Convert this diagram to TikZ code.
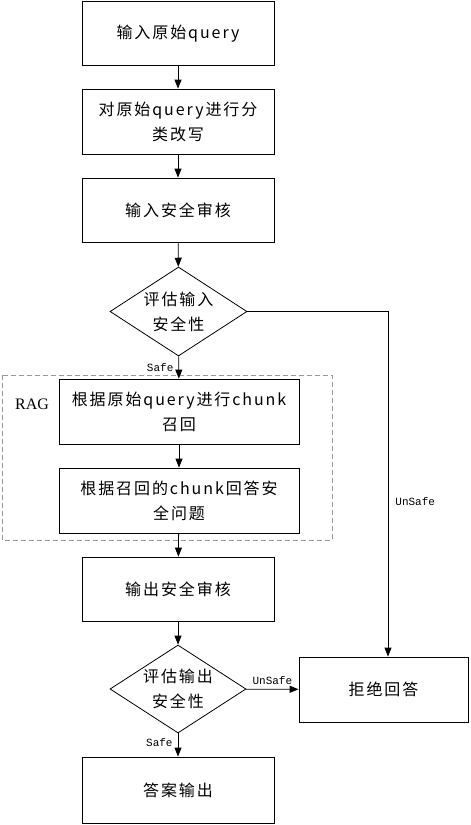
\documentclass[tikz,border=0pt]{standalone}
\usepackage{fontspec}
\newfontfamily\cjk[LetterSpace=12]{Noto Sans CJK SC}
\setmainfont{Liberation Serif}
\setmonofont{Liberation Mono}
\usetikzlibrary{shapes.geometric,arrows.meta}

\tikzset{
    box/.style={draw, line width=0.8pt, minimum width=192pt, minimum height=64pt, align=center, inner sep=2pt, font=\cjk\fontsize{16}{25}\selectfont},
    widebox/.style={box, minimum width=240pt, minimum height=65pt},
    decision/.style={draw, line width=0.8pt, diamond, aspect=1.54, minimum width=137pt, minimum height=89pt, inner sep=0pt, align=center, font=\cjk\fontsize{16}{25}\selectfont},
    flow/.style={draw, line width=0.8pt, -{Triangle[length=9pt,width=7pt]}},
    tag/.style={font=\ttfamily\fontsize{11}{12}\selectfont, inner sep=1pt},
    ragframe/.style={draw=gray!80, dashed, line width=0.8pt, dash pattern=on 5pt off 3pt}
}

\begin{document}
\begin{tikzpicture}[x=1pt, y=-1pt]
\useasboundingbox (0,0) rectangle (471,825);

% Draw the steps
\node[box] (input) at (178,33.5) {输入原始query};
\node[box, minimum height=65pt] (rewrite) at (178,121.5) {对原始query进行分\\类改写};
\node[box] (incheck) at (178,210) {输入安全审核};
\node[decision] (inq) at (178.5,311.5) {评估输入\\安全性};

% Draw the RAG part
\draw[ragframe] (2,375) rectangle (332,540);
\node[font=\fontsize{16}{18}\selectfont] (rag) at (32,404) {RAG};
\node[widebox] (recall) at (179,411.5) {根据原始query进行chunk\\召回};
\node[widebox] (answer) at (179,500.5) {根据召回的chunk回答安\\全问题};

\node[box] (outcheck) at (178,589) {输出安全审核};
\node[decision, minimum width=136pt, minimum height=88pt] (outq) at (178,689) {评估输出\\安全性};
\node[box, minimum width=169pt, minimum height=65pt] (refuse) at (383.5,689.5) {拒绝回答};
\node[box, minimum height=66pt] (result) at (178,790) {答案输出};

% Draw the arrows
\draw[flow] (input) -- (rewrite);
\draw[flow] (rewrite) -- (incheck);
\draw[flow] (incheck) -- (inq);
\draw[flow] (inq) -- node[tag, pos=0.5, left=4pt] {Safe} (recall);
\draw[flow] (recall) -- (answer);
\draw[flow] (answer) -- (outcheck);
\draw[flow] (outcheck) -- (outq);
\draw[flow] (outq) -- node[tag, pos=0.4, left=4pt] {Safe} (result);
\draw[flow] (outq) -- node[tag, pos=0.5, above=3pt] {UnSafe} (refuse);
\coordinate (turn) at (388,311.5);
\draw[flow] (inq.east) -- (turn) -- node[tag, pos=0.55, right=6pt] {UnSafe} (turn |- refuse.north);

\end{tikzpicture}
\end{document}
